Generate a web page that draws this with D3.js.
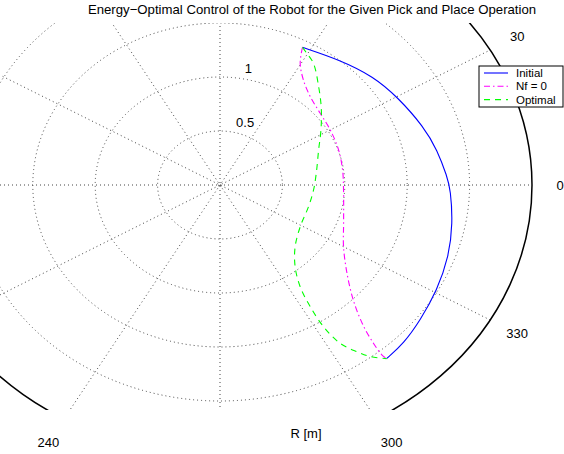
<!DOCTYPE html>
<html>
<head>
<meta charset="utf-8">
<script src="https://cdn.jsdelivr.net/npm/d3@7"></script>
<style>
  body { margin: 0; background: #fff; }
  svg { display: block; font-family: "Liberation Sans", Arial, sans-serif; }
</style>
</head>
<body>
<div class="chart"></div>
<script>
// polar data: theta in degrees, R in metres
const thetaInitial = [62.6, 50.2, 39.2, 30.0, 18.3, 10.5, 2.4, -1.4, -10.8, -19.9, -29.2, -37.9, -44.9, -50.3];
const rhoInitial   = [1.436, 1.506, 1.588, 1.638, 1.720, 1.771, 1.822, 1.848, 1.899, 1.950, 1.994, 2.035, 2.078, 2.089];

const thetaNf0 = [62.6, 60.3, 55.5, 48.5, 39.6, 29.9, 18.8, 8.1, -2.7, -19.7, -30.0, -38.8, -45.2, -48.7, -50.0, -50.5, -50.3];
const rhoNf0   = [1.436, 1.297, 1.180, 1.092, 1.042, 1.020, 1.004, 0.992, 0.991, 1.052, 1.143, 1.306, 1.521, 1.745, 1.914, 2.041, 2.089];

const thetaOptimal = [62.6, 60.3, 56.4, 49.0, 41.3, 32.2, 22.3, 8.0, -3.5, -15.8, -31.0, -43.5, -51.5, -55.7, -57.3, -57.7, -56.7, -54.6, -52.8, -50.3];
const rhoOptimal   = [1.436, 1.404, 1.353, 1.205, 1.080, 0.956, 0.854, 0.779, 0.751, 0.737, 0.750, 0.830, 0.967, 1.140, 1.339, 1.552, 1.754, 1.894, 1.995, 2.089];

const seriesNames = ["Initial", "Nf = 0", "Optimal"];
const ringValues = [0.5, 1, 1.5, 2];
const ringLabels = ["0.5", "1"];
const rMax = 2.5;
const spokeAngles = [0, 30, 60, 90, 120, 150];
const angleLabels = ["0", "30", "60", "90", "120", "150", "180", "210", "240", "270", "300", "330"];

const width = 564, height = 454;
const cx = 220, cy = 185;

const svg = d3.select(".chart")
  .append("svg")
  .attr("width", width)
  .attr("height", height);

// the plot is stretched: wider than tall
const x = d3.scaleLinear().domain([-rMax, rMax]).range([cx - 312, cx + 312]);
const y = d3.scaleLinear().domain([-rMax, rMax]).range([cy + 270, cy - 270]);
const rad = d => d * Math.PI / 180;

svg.append("clipPath").attr("id", "axclip")
  .append("rect")
  .attr("x", -200).attr("y", 23)
  .attr("width", width + 400).attr("height", 410 - 23);

const plot = svg.append("g").attr("clip-path", "url(#axclip)");

// dotted rings
plot.selectAll(".ring")
  .data(ringValues)
  .join("ellipse")
  .attr("class", "ring")
  .attr("cx", x(0)).attr("cy", y(0))
  .attr("rx", d => x(d) - x(0))
  .attr("ry", d => y(0) - y(d))
  .attr("fill", "none")
  .attr("stroke", "#444")
  .attr("stroke-width", 1)
  .attr("stroke-dasharray", "1,3");

// dotted spokes
plot.selectAll(".spoke")
  .data(spokeAngles)
  .join("line")
  .attr("class", "spoke")
  .attr("x1", d => x(-rMax * Math.cos(rad(d))))
  .attr("y1", d => y(-rMax * Math.sin(rad(d))))
  .attr("x2", d => x(rMax * Math.cos(rad(d))))
  .attr("y2", d => y(rMax * Math.sin(rad(d))))
  .attr("stroke", "#444")
  .attr("stroke-width", 1)
  .attr("stroke-dasharray", "1,3");

// outer solid ring
plot.append("ellipse")
  .attr("cx", x(0)).attr("cy", y(0))
  .attr("rx", x(rMax) - x(0))
  .attr("ry", y(0) - y(rMax))
  .attr("fill", "none")
  .attr("stroke", "#000")
  .attr("stroke-width", 1.5);

// ring labels at 82 degrees
const c82 = Math.cos(rad(82)), s82 = Math.sin(rad(82));
svg.selectAll(".rlabel")
  .data(ringLabels)
  .join("text")
  .attr("class", "rlabel")
  .attr("x", d => x((+d + 0.025) * c82) + 7)
  .attr("y", d => y((+d + 0.025) * s82) - 2)
  .style("font-size", "13px")
  .text(d => d);

// angle labels (only those that land on the page)
const labelPos = d => [x(1.1 * rMax * Math.cos(rad(+d))), y(1.1 * rMax * Math.sin(rad(+d)))];
svg.selectAll(".alabel")
  .data(angleLabels.filter(d => {
    const [px, py] = labelPos(d);
    return px > 0 && px < width + 5 && py > 0 && py < height;
  }))
  .join("text")
  .attr("class", "alabel")
  .attr("x", d => Math.min(labelPos(d)[0], width - 4))
  .attr("y", d => labelPos(d)[1])
  .attr("dy", "0.35em")
  .attr("text-anchor", "middle")
  .style("font-size", "13px")
  .text(d => d);

// series
const toXY = (th, r) => th.map((t, i) => [x(r[i] * Math.cos(rad(t))), y(r[i] * Math.sin(rad(t)))]);

const series = [
  { name: seriesNames[0], pts: toXY(thetaInitial, rhoInitial), color: "#0000ff", dash: null, curve: d3.curveBasis },
  { name: seriesNames[1], pts: toXY(thetaNf0, rhoNf0), color: "#ff00ff", dash: "6,3,1.5,3", curve: d3.curveCatmullRom },
  { name: seriesNames[2], pts: toXY(thetaOptimal, rhoOptimal), color: "#00ff00", dash: "6,5", curve: d3.curveCatmullRom }
];

plot.selectAll(".series")
  .data(series)
  .join("path")
  .attr("class", "series")
  .attr("d", d => d3.line().curve(d.curve)(d.pts))
  .attr("fill", "none")
  .attr("stroke", d => d.color)
  .attr("stroke-width", 1.1)
  .attr("stroke-dasharray", d => d.dash);

// title and axis label
svg.append("text")
  .attr("x", 312).attr("y", 14)
  .attr("text-anchor", "middle")
  .style("font-size", "13.2px")
  .text("Energy\u2212Optimal Control of the Robot for the Given Pick and Place Operation");

svg.append("text")
  .attr("x", 306).attr("y", 438)
  .attr("text-anchor", "middle")
  .style("font-size", "13px")
  .text("R [m]");

// legend
const legend = svg.append("g").attr("transform", "translate(479,66)");
legend.append("rect")
  .attr("width", 84).attr("height", 41)
  .attr("fill", "#fff")
  .attr("stroke", "#000")
  .attr("stroke-width", 1);

const items = legend.selectAll(".item")
  .data(series)
  .join("g")
  .attr("class", "item")
  .attr("transform", (d, i) => `translate(0,${7 + i * 13.3})`);

items.append("line")
  .attr("x1", 5).attr("x2", 29)
  .attr("stroke", d => d.color)
  .attr("stroke-width", 1.1)
  .attr("stroke-dasharray", d => d.dash);

items.append("text")
  .attr("x", 37)
  .attr("dy", "0.35em")
  .style("font-size", "11.5px")
  .text(d => d.name);
</script>
</body>
</html>
